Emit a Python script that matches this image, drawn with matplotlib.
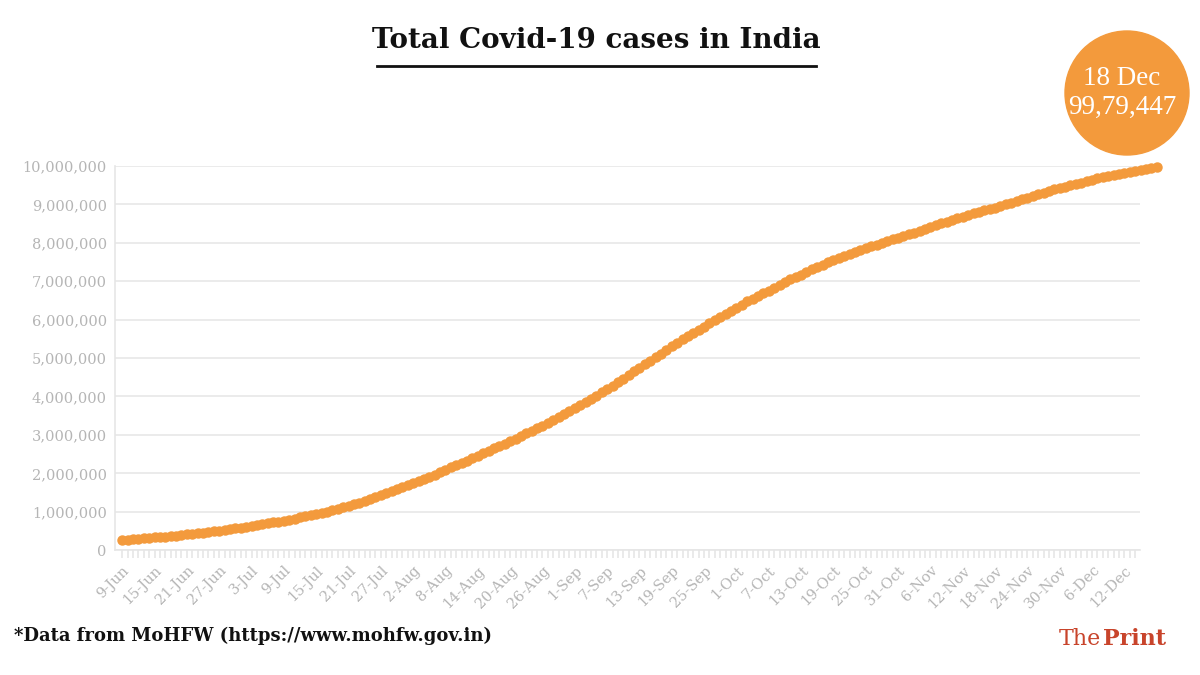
import matplotlib
matplotlib.use("Agg")
import matplotlib.pyplot as plt
from matplotlib.patches import Circle
import datetime as dt

cases = [
266598,276583,286579,297535,308993,320922,332424,343091,354065,366946,380532,395048,410461,425282,440215,456183,473105,490401,508953,528859,548318,566840,
585493,604641,625544,648315,673165,697413,719665,742417,767296,793802,820916,849553,878254,906752,936181,968876,1003832,1038716,1077618,1118043,1155191,1192915,1238635,1287945,1336861,1385522,1435453,1483156,1531669,1583792,1638870,
1695988,1750723,1803695,1855745,1908254,1964536,2027074,2088611,2153010,2215074,2268675,2329638,2396637,2461190,2526192,2589682,2647663,2702742,2767273,2836925,2905825,2975701,3044940,3106348,3167323,3234474,3310234,3387500,3463972,3542733,3621245,
3691166,3769523,3853406,3936747,4023179,4113811,4204613,4280422,4370128,4465863,4562414,4659984,4754356,4846427,4930236,5020359,5118253,5214677,5308014,5400619,5487580,5562663,5646010,5732518,5818570,5903932,5992532,6074702,6145291,6225763,
6312584,6394068,6473544,6549373,6623815,6685082,6757131,6835655,6906151,6979423,7053806,7120538,7175880,7239389,7307097,7370468,7432680,7494551,7550273,7597063,7651107,7706946,7761312,7814682,7864811,7909959,7946429,7990322,8040203,8088851,8137119,
8184082,8229313,8267623,8313876,8364086,8411724,8462080,8507754,8553657,8591730,8636011,8683916,8728795,8773479,8814579,8845127,8874290,8912907,8958483,9004365,9050597,9095806,9139865,9177840,9222216,9266705,9309787,9351109,9392919,9431691,
9462809,9499413,9534964,9571559,9608211,9644222,9677203,9703770,9735850,9767371,9796769,9826775,9857029,9884100,9906165,9932547,9956557,9979447]
start = dt.date(2020, 6, 9)
dates = [start + dt.timedelta(days=i) for i in range(len(cases))]
labels = [f"{d.day}-{d.strftime('%b')}" for d in dates]
yticks = list(range(0, 10000001, 1000000))
bubble_text = "18 Dec\n99,79,447"

ORANGE = "#f39a3c"
GREY = "#b5b5b5"
SERIF = "DejaVu Serif"
fig = plt.figure(figsize=(12, 6.75), dpi=100)
ax = fig.add_axes([0.096, 0.185, 0.854, 0.569])
x = list(range(len(cases)))
ax.plot(x, cases, "o", color=ORANGE, ms=6.5, mec=ORANGE, clip_on=False, zorder=3)
ax.set_yticks(yticks)
ax.set_yticklabels([f"{v:,}" for v in yticks], color=GREY, fontsize=10.5, family=SERIF)
ax.set_xticks(x[:187:6])
ax.set_xticklabels(labels[:187:6], rotation=45, ha="right", rotation_mode="anchor", color=GREY, fontsize=10.5, family=SERIF)
ax.set_xticks(x[:189], minor=True)
ax.set_xlim(-1.3, 188.9)
ax.set_ylim(0, 10000000)
ax.tick_params(axis="x", which="both", length=6, color="#e6e6e6", width=1.2)
ax.tick_params(axis="y", length=0, pad=6)
ax.grid(axis="y", color="#e8e8e8", lw=1.2)
for s in ["top", "right"]:
    ax.spines[s].set_visible(False)
for s in ["left", "bottom"]:
    ax.spines[s].set_color("#e6e6e6")
    ax.spines[s].set_linewidth(1.2)
ax.set_axisbelow(True)

fig.text(0.497, 0.94, "Total Covid-19 cases in India", ha="center", va="center",
         fontsize=20, fontweight="bold", family=SERIF, color="#111")
fig.add_artist(plt.Line2D([0.314, 0.68], [0.902, 0.902], color="#111", lw=2))

circ = Circle((11.27, 6.75 - 0.93), 0.62, transform=fig.dpi_scale_trans, color=ORANGE)
fig.add_artist(circ)
fig.text(1122/1200, 1-93/675, bubble_text, ha="center", va="center", color="white",
         fontsize=19.5, family="Liberation Serif", linespacing=1.2)

fig.text(0.012, 0.058, "*Data from MoHFW (https://www.mohfw.gov.in)", ha="left", va="center",
         fontsize=13, fontweight="bold", family=SERIF, color="#111")
fig.text(0.882, 0.053, "The", ha="left", va="center", fontsize=16, family=SERIF, color="#c8442b")
fig.text(0.919, 0.053, "Print", ha="left", va="center", fontsize=16, fontweight="bold", family=SERIF, color="#c8442b")
fig.savefig("out.png", dpi=100)
